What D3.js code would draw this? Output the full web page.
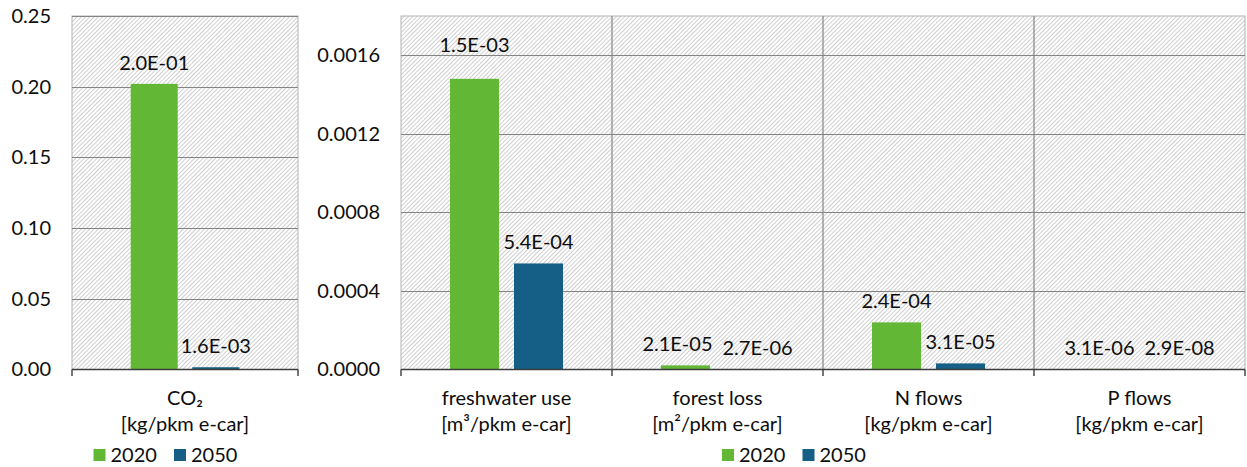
<!DOCTYPE html>
<html>
<head>
<meta charset="utf-8">
<script src="https://cdn.jsdelivr.net/npm/d3@7"></script>
<style>
    body { margin: 0; background: #fff; }
    svg text { font-family: Lato, "Open Sans", sans-serif; font-size: 20px; fill: #0d0d0d; }
</style>
</head>
<body>
<div id="chart"></div>
<script>
// series
const years = ["2020", "2050"];
const colors = ["#62b834", "#155e85"];

// left chart: climate
const co2Cats = ["CO₂"];
const co2Units = ["[kg/pkm e-car]"];
const co2_2020 = [0.202];
const co2_2050 = [0.0016];
const co2Ticks = [0, 0.05, 0.10, 0.15, 0.20, 0.25];
const co2Max = 0.25;

// right chart: other boundaries
const bioCats = ["freshwater use", "forest loss", "N flows", "P flows"];
const bioUnits = ["[m³/pkm e-car]", "[m²/pkm e-car]", "[kg/pkm e-car]", "[kg/pkm e-car]"];
const bio_2020 = [0.00148, 0.000021, 0.00024, 0.0000031];
const bio_2050 = [0.00054, 0.0000027, 0.000031, 0.000000029];
const bioTicks = [0, 0.0004, 0.0008, 0.0012, 0.0016];
const bioMax = 0.0018;

const W = 1247, H = 467;
const plotTop = 16, plotBottom = 369.5;

let svg = d3.select("#chart").append("svg")
    .attr("width", W)
    .attr("height", H);

// diagonal hatch used as plot background
let hatch = svg.append("defs").append("pattern")
    .attr("id", "hatch")
    .attr("patternUnits", "userSpaceOnUse")
    .attr("width", 3)
    .attr("height", 3)
    .attr("patternTransform", "rotate(45)");
hatch.append("rect").attr("width", 3).attr("height", 3).attr("fill", "#fff");
hatch.append("line")
    .attr("x1", 0.5).attr("y1", 0).attr("x2", 0.5).attr("y2", 3)
    .attr("stroke", "#cfcfcf").attr("stroke-width", 1);

// "2.0E-01" style labels
function sci(v) {
    let parts = v.toExponential(1).split("e");
    let e = +parts[1];
    return parts[0] + "E" + (e < 0 ? "-" : "+") + String(Math.abs(e)).padStart(2, "0");
}

function drawPanel(cfg) {
    let g = svg.append("g");

    let x = d3.scaleBand()
        .domain(cfg.cats)
        .range([cfg.x0, cfg.x1]);
    let xs = d3.scaleBand()
        .domain(years)
        .range([0, x.bandwidth()])
        .paddingInner(cfg.padIn)
        .paddingOuter(cfg.padOut);
    let y = d3.scaleLinear()
        .domain([0, cfg.max])
        .range([plotBottom, plotTop]);

    // background + border
    g.append("rect")
        .attr("x", cfg.x0).attr("y", plotTop)
        .attr("width", cfg.x1 - cfg.x0).attr("height", plotBottom - plotTop)
        .attr("fill", "url(#hatch)")
        .attr("stroke", "#b4b4b4")
        .attr("stroke-width", 1);

    // horizontal gridlines
    g.append("g").selectAll("line")
        .data(cfg.ticks.filter(t => t > 0))
        .enter().append("line")
        .attr("x1", cfg.x0).attr("x2", cfg.x1)
        .attr("y1", d => Math.round(y(d)) + 0.5)
        .attr("y2", d => Math.round(y(d)) + 0.5)
        .attr("stroke", "#858585")
        .attr("stroke-width", 1.2);

    // vertical category dividers
    g.append("g").selectAll("line")
        .data(cfg.cats.slice(1))
        .enter().append("line")
        .attr("x1", d => x(d)).attr("x2", d => x(d))
        .attr("y1", plotTop).attr("y2", plotBottom)
        .attr("stroke", "#858585")
        .attr("stroke-width", 1.2);

    // y labels
    let yAxis = g.append("g")
        .attr("transform", "translate(" + cfg.x0 + ",0)")
        .call(d3.axisLeft(y).tickValues(cfg.ticks).tickFormat(d3.format(cfg.fmt)).tickSize(0).tickPadding(21));
    yAxis.select(".domain").remove();
    yAxis.selectAll("text").attr("fill", null);
    yAxis.attr("font-size", null).attr("font-family", null);

    // bars
    let rows = [];
    cfg.cats.forEach((c, i) => {
        years.forEach((yr, j) => {
            rows.push({cat: c, year: yr, j: j, v: cfg.vals[j][i]});
        });
    });

    g.append("g").selectAll("rect")
        .data(rows)
        .enter().append("rect")
        .attr("x", d => x(d.cat) + xs(d.year))
        .attr("y", d => y(d.v))
        .attr("width", xs.bandwidth())
        .attr("height", d => plotBottom - y(d.v))
        .attr("fill", d => colors[d.j]);

    // bottom axis with ticks at category edges
    let edges = cfg.cats.map(c => x(c)).concat([cfg.x1]);
    g.append("line")
        .attr("x1", cfg.x0).attr("x2", cfg.x1)
        .attr("y1", plotBottom).attr("y2", plotBottom)
        .attr("stroke", "#3c3c3c").attr("stroke-width", 1.6);
    g.append("g").selectAll("line")
        .data(edges)
        .enter().append("line")
        .attr("x1", d => d).attr("x2", d => d)
        .attr("y1", plotBottom).attr("y2", plotBottom + 6.5)
        .attr("stroke", "#3c3c3c").attr("stroke-width", 1.4);

    // value labels
    let gridY = cfg.ticks.filter(t => t > 0).map(t => y(t));
    let labels = g.append("g").selectAll("text")
        .data(rows)
        .enter().append("text")
        .attr("text-anchor", "middle")
        .text(d => sci(d.v));
    labels.each(function(d) {
        d.lx = x(d.cat) + xs(d.year) + xs.bandwidth() / 2;
        d.ly = y(d.v) - 14;
        // keep label off a gridline
        let hit = gridY.find(gy => gy >= d.ly - 14 && gy <= d.ly + 3);
        if (hit !== undefined) d.ly = hit - 3;
        d.w = this.getComputedTextLength();
    });
    // push apart labels of the same category that overlap
    cfg.cats.forEach(c => {
        let pair = rows.filter(r => r.cat === c);
        let a = pair[0], b = pair[1];
        if (Math.abs(a.ly - b.ly) < 16) {
            let need = (a.w + b.w) / 2 + 10 - (b.lx - a.lx);
            if (need > 0) { a.lx -= need / 2; b.lx += need / 2; }
        }
    });
    labels.attr("x", d => d.lx).attr("y", d => d.ly);

    // category names
    let cat = g.append("g").selectAll("text")
        .data(cfg.cats)
        .enter().append("text")
        .attr("text-anchor", "middle")
        .attr("x", d => x(d) + x.bandwidth() / 2)
        .attr("y", 405);
    cat.append("tspan").text(d => d);
    cat.append("tspan")
        .attr("x", d => x(d) + x.bandwidth() / 2)
        .attr("y", 431)
        .text((d, i) => cfg.units[i]);

    // legend
    let leg = g.append("g").selectAll("g")
        .data(years)
        .enter().append("g")
        .attr("transform", (d, i) => "translate(" + (cfg.legendX + i * 80.5) + ",449)");
    leg.append("rect")
        .attr("width", 12).attr("height", 12)
        .attr("fill", (d, i) => colors[i]);
    leg.append("text")
        .attr("x", 17)
        .attr("y", 12.5)
        .text(d => d);
}

drawPanel({
    x0: 72, x1: 298,
    cats: co2Cats, units: co2Units,
    vals: [co2_2020, co2_2050],
    ticks: co2Ticks, max: co2Max, fmt: ".2f",
    padIn: 0.237, padOut: 0.953,
    legendX: 93.5
});

drawPanel({
    x0: 401, x1: 1245,
    cats: bioCats, units: bioUnits,
    vals: [bio_2020, bio_2050],
    ticks: bioTicks, max: bioMax, fmt: ".4f",
    padIn: 0.234, padOut: 0.766,
    legendX: 722
});
</script>
</body>
</html>
